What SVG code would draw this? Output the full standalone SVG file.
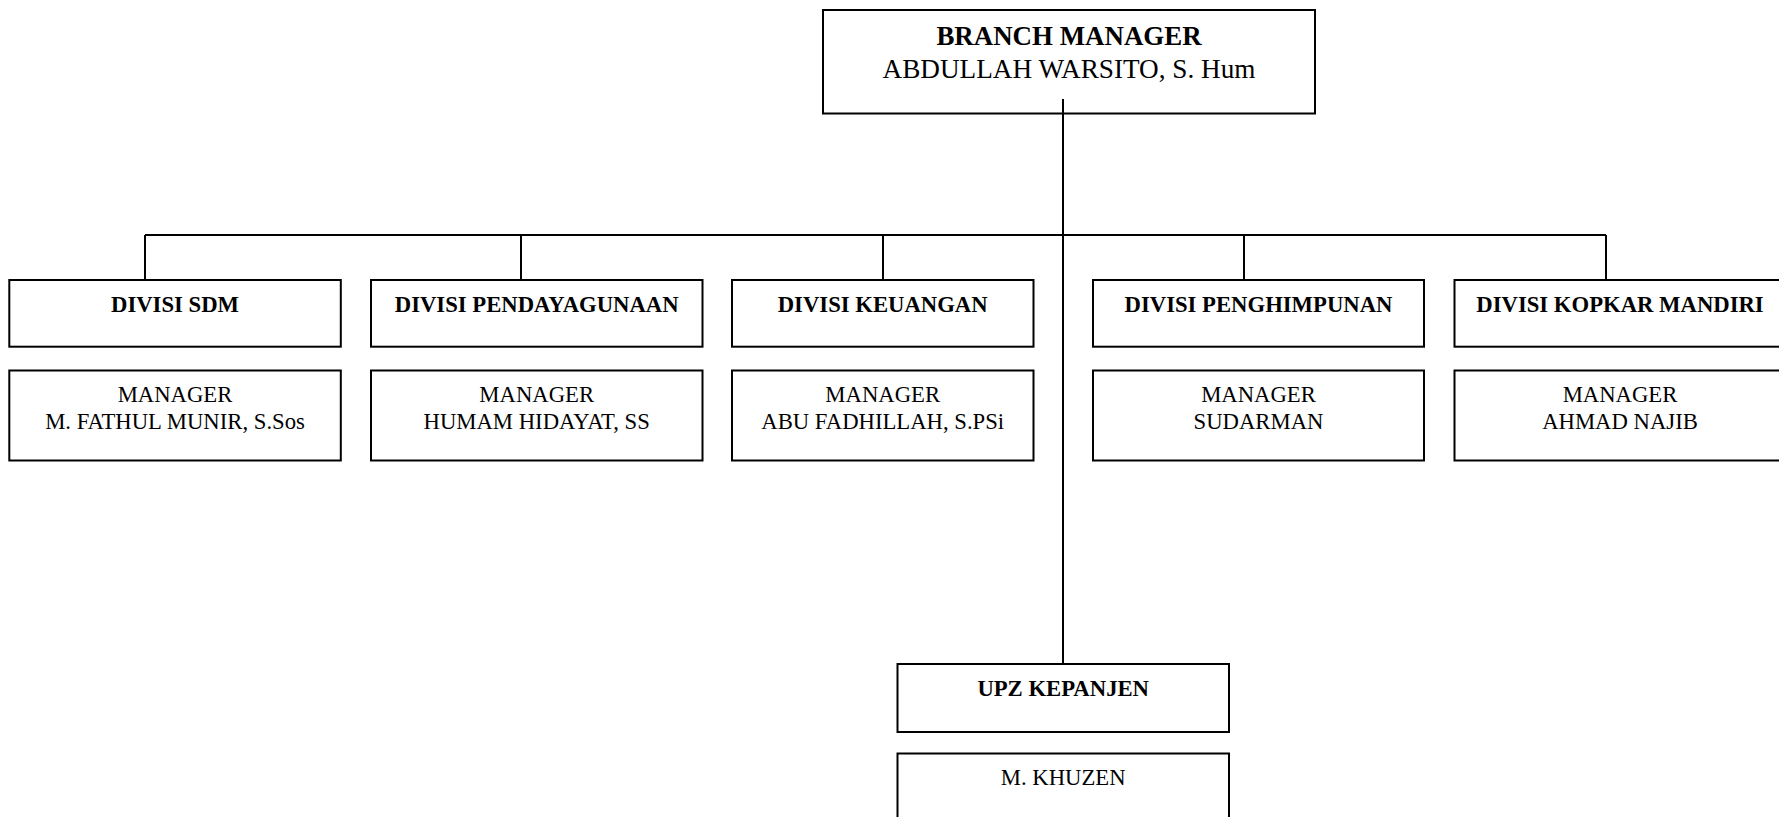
<svg xmlns="http://www.w3.org/2000/svg" width="1779" height="817" viewBox="0 0 1779 817">
<style>
rect.box{fill:#fff;stroke:#000;stroke-width:2}
.conn line{stroke:#000;stroke-width:2}
text{font-family:"Liberation Serif","Times New Roman",serif;fill:#000;text-anchor:middle}
.t{font-weight:bold;font-size:22.7px}
.m{font-size:22.7px}
.tb{font-weight:bold;font-size:26.9px}
.tm{font-size:27.2px}
</style>
<rect width="1779" height="817" fill="#fff"/>
<g id="connectors" class="conn">
<line x1="1063" y1="99" x2="1063" y2="664"/>
<line x1="145" y1="235" x2="1606" y2="235"/>
<line x1="145" y1="235" x2="145" y2="280"/>
<line x1="521" y1="235" x2="521" y2="280"/>
<line x1="883" y1="235" x2="883" y2="280"/>
<line x1="1244" y1="235" x2="1244" y2="280"/>
<line x1="1606" y1="235" x2="1606" y2="280"/>
</g>
<g id="branch-manager">
<rect class="box" x="823" y="10" width="492" height="103.5" fill-opacity="0"/>
<text class="tb" x="1069" y="45">BRANCH MANAGER</text>
<text class="tm" x="1069" y="77.5">ABDULLAH WARSITO, S. Hum</text>
</g>
<g id="divisi-sdm">
<rect class="box" x="9.3" y="280" width="331.5" height="66.7"/>
<text class="t" x="175" y="311.5">DIVISI SDM</text>
</g>
<g id="manager-sdm">
<rect class="box" x="9.3" y="370.5" width="331.5" height="90"/>
<text class="m" x="175" y="401.5">MANAGER</text>
<text class="m" x="175" y="428.5">M. FATHUL MUNIR, S.Sos</text>
</g>
<g id="divisi-pendayagunaan">
<rect class="box" x="371" y="280" width="331.5" height="66.7"/>
<text class="t" x="536.7" y="311.5">DIVISI PENDAYAGUNAAN</text>
</g>
<g id="manager-pendayagunaan">
<rect class="box" x="371" y="370.5" width="331.5" height="90"/>
<text class="m" x="536.7" y="401.5">MANAGER</text>
<text class="m" x="536.7" y="428.5">HUMAM HIDAYAT, SS</text>
</g>
<g id="divisi-keuangan">
<rect class="box" x="732" y="280" width="301.5" height="66.7"/>
<text class="t" x="882.7" y="311.5">DIVISI KEUANGAN</text>
</g>
<g id="manager-keuangan">
<rect class="box" x="732" y="370.5" width="301.5" height="90"/>
<text class="m" x="882.7" y="401.5">MANAGER</text>
<text class="m" x="882.7" y="428.5">ABU FADHILLAH, S.PSi</text>
</g>
<g id="divisi-penghimpunan">
<rect class="box" x="1093" y="280" width="331" height="66.7"/>
<text class="t" x="1258.5" y="311.5">DIVISI PENGHIMPUNAN</text>
</g>
<g id="manager-penghimpunan">
<rect class="box" x="1093" y="370.5" width="331" height="90"/>
<text class="m" x="1258.5" y="401.5">MANAGER</text>
<text class="m" x="1258.5" y="428.5">SUDARMAN</text>
</g>
<g id="divisi-kopkar-mandiri">
<rect class="box" x="1454.5" y="280" width="331" height="66.7"/>
<text class="t" x="1620" y="311.5">DIVISI KOPKAR MANDIRI</text>
</g>
<g id="manager-kopkar-mandiri">
<rect class="box" x="1454.5" y="370.5" width="331" height="90"/>
<text class="m" x="1620" y="401.5">MANAGER</text>
<text class="m" x="1620" y="428.5">AHMAD NAJIB</text>
</g>
<g id="upz-kepanjen">
<rect class="box" x="897.5" y="664" width="331.5" height="68"/>
<text class="t" x="1063.2" y="696">UPZ KEPANJEN</text>
</g>
<g id="upz-head">
<rect class="box" x="897.5" y="753.5" width="331.5" height="100"/>
<text class="m" x="1063.2" y="785">M. KHUZEN</text>
</g>
</svg>
